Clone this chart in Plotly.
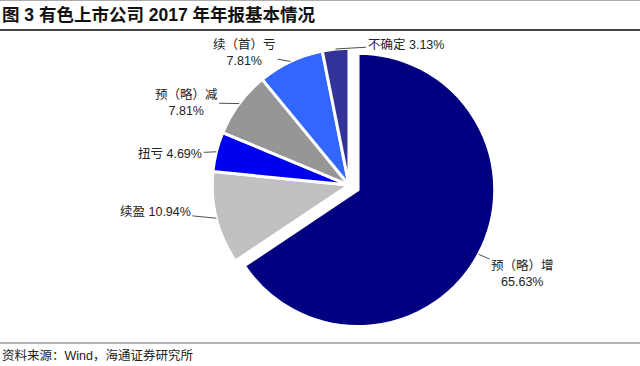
import math
import plotly.graph_objects as go

labels = ["预（略）增", "续盈", "扭亏", "预（略）减", "续（首）亏", "不确定"]
values = [65.63, 10.94, 4.69, 7.81, 7.81, 3.13]
colors = ["#000080", "#C0C0C0", "#0000F0", "#969696", "#3366FF", "#333399"]
pulls = [0.075, 0, 0, 0, 0, 0]
label_texts = ["预（略）增<br>65.63%", "续盈 10.94%", "扭亏 4.69%",
               "预（略）减<br>7.81%", "续（首）亏<br>7.81%", "不确定 3.13%"]
# label offsets (px) from the slice edge point to the label centre
label_dx = [44, -61, -46, -53, -46, 70]
label_dy = [19, -6, 2, -1, -8, -4]

W, H = 640, 366
FONT = "Liberation Sans, Arial, Noto Sans CJK SC"
DOM_X = [0.3156, 0.775]
DOM_Y = [0.093, 0.896]

fig = go.Figure(go.Pie(
    labels=labels, values=values, sort=False, direction="clockwise", rotation=0,
    marker=dict(colors=colors, line=dict(color="white", width=3)),
    pull=pulls, textinfo="none",
    showlegend=False, hoverinfo="label+value",
    domain=dict(x=DOM_X, y=DOM_Y),
))

# geometry of the pie in pixels (from its domain), used to attach leader lines
cx = (DOM_X[0] + DOM_X[1]) / 2 * W
cy = (1 - (DOM_Y[0] + DOM_Y[1]) / 2) * H
r = min((DOM_X[1] - DOM_X[0]) * W, (DOM_Y[1] - DOM_Y[0]) * H) / (2 * (1 + max(pulls)))
total = sum(values)

annotations = []
cum = 0
for v, t, p, dx, dy in zip(values, label_texts, pulls, label_dx, label_dy):
    mid = (cum + v / 2) / total * 2 * math.pi
    cum += v
    ox = cx + p * r * math.sin(mid)
    oy = cy - p * r * math.cos(mid)
    px = ox + r * math.sin(mid)
    py = oy - r * math.cos(mid)
    annotations.append(dict(
        text=t, xref="paper", yref="paper", x=px / W, y=1 - py / H,
        ax=dx, ay=dy, showarrow=True, arrowhead=0, arrowwidth=0.8,
        arrowcolor="#222222", standoff=0, startstandoff=0,
        font=dict(family=FONT, size=12.5, color="#222222"), align="center",
    ))

annotations += [
    dict(text="<b>图 3 有色上市公司 2017 年年报基本情况</b>", xref="paper", yref="paper",
         x=0.0, y=1 - 15 / H, xanchor="left", yanchor="middle", showarrow=False,
         font=dict(family=FONT, size=17.5, color="#111111")),
    dict(text="资料来源：Wind，海通证券研究所", xref="paper", yref="paper",
         x=0.0, y=1 - 355 / H, xanchor="left", yanchor="middle", showarrow=False,
         font=dict(family=FONT, size=12.5, color="#222222")),
]

fig.update_layout(
    width=W, height=H,
    margin=dict(l=0, r=0, t=0, b=0),
    paper_bgcolor="white", plot_bgcolor="white",
    shapes=[
        dict(type="line", xref="paper", yref="paper", x0=0, x1=1, y0=1 - 0.5 / H, y1=1 - 0.5 / H,
             line=dict(color="#AAAAAA", width=1)),
        dict(type="line", xref="paper", yref="paper", x0=0, x1=1, y0=1 - 30 / H, y1=1 - 30 / H,
             line=dict(color="#444444", width=2)),
        dict(type="line", xref="paper", yref="paper", x0=0, x1=1, y0=1 - 343 / H, y1=1 - 343 / H,
             line=dict(color="#999999", width=1.5)),
    ],
    annotations=annotations,
)

post = ("document.body.style.margin='0';document.body.style.padding='0';"
        "var d=document.getElementById('{plot_id}');"
        "d.style.position='absolute';d.style.left='0px';d.style.top='0px';")

fig.write_html("out.html", post_script=post, config={"displayModeBar": False})
